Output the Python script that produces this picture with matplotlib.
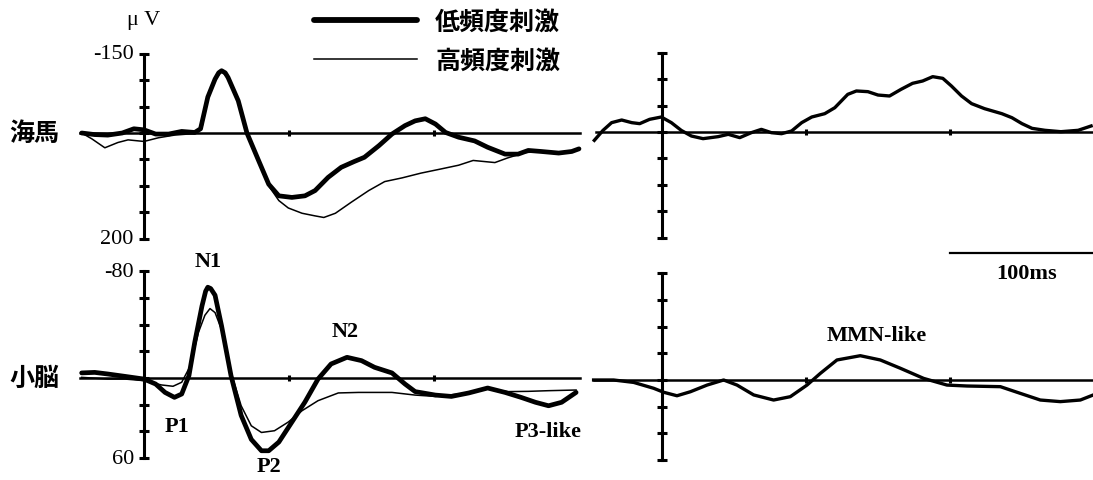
import numpy as np
import matplotlib
matplotlib.use('Agg')
import matplotlib.pyplot as plt

CJK = ['Noto Sans CJK JP', 'DejaVu Sans']
SERIF = ['Liberation Serif', 'DejaVu Serif']

# ---- data (ms, uV; negative up) ----
# hippocampus, low-frequency (thick)
hip_low_t = [-43, -34, -25, -15, -7, 0, 8, 17, 26, 35, 39, 44, 49, 51.5, 53.5, 56, 58, 65, 71, 79, 86, 93, 102,
             111, 118, 127, 136, 145, 152, 162, 171, 180, 187, 194, 201, 208, 217, 228, 237, 249, 258,
             265, 274, 286, 295, 300]
hip_low_v = [0, 3, 4, 0, -8, -6, 2, 2, -3, -1, -8, -68, -102, -114, -118, -114, -105, -61, 0, 52, 97, 119, 122,
             119, 109, 84, 65, 54, 46, 24, 2, -14, -23, -27, -17, -1, 8, 15, 27, 40, 40,
             33, 35, 38, 35, 30]
# hippocampus, high-frequency (thin)
hip_high_t = [-43, -36, -27, -18, -11, 0, 10, 21, 35, 40, 44, 49, 53.5, 58, 65, 71, 79, 86, 93, 99.5,
              109, 118, 124, 132, 143, 155, 166, 178, 191, 205, 217, 227, 242, 251, 263, 274, 286, 295, 300]
hip_high_v = [0, 11, 28, 18, 13, 16, 9, 4, 1, -11, -65, -100, -117, -104, -60, 0, 54, 100, 128, 142,
              152, 157, 160, 152, 131, 109, 92, 85, 76, 68, 61, 52, 56, 47, 37, 35, 37, 35, 30]
# cerebellum, low-frequency (thick)
cer_low_t = [-43, -34, -25, -13, 0, 8, 14.5, 21, 26, 31, 35, 40, 42.5, 44, 46, 49, 53.5, 60, 67, 74, 81, 86, 93,
             102, 111, 120, 129, 140, 150, 159, 171, 180, 187, 201, 212, 224, 237, 249, 260, 270, 279,
             288, 298]
cer_low_v = [-3.8, -4.2, -3, -1.2, 0.8, 4.5, 10.8, 14.5, 12, -1.8, -26.8, -54, -65, -68, -67, -62, -39, -1.8, 28,
             46, 54.5, 54.5, 48, 33, 18, 0.8, -10.5, -15.5, -13, -8, -3.8, 4.5, 10.2, 12.8, 13.8, 11.2,
             7.5, 10.8, 14.5, 18.2, 20.8, 18.2, 10.8]
# cerebellum, high-frequency (thin)
cer_high_t = [-43, -25, -13, 0, 12, 20, 26, 32, 37.5, 42, 45.5, 49, 55, 60, 67, 74, 81, 90, 99.5, 109,
              120, 134, 148, 171, 187, 201, 224, 237, 251, 265, 279, 298]
cer_high_v = [-0.5, 0.8, 0.8, 2, 5.2, 6.2, 3.2, -9.2, -34, -47, -52, -49, -32, -4.2, 20.8, 35.8, 40.8,
              39.5, 33, 24.5, 17, 11.2, 10.8, 10.8, 12.8, 13.8, 11.2, 8.2, 10.2, 10, 9.5, 9]
# difference waves
hip_diff_t = [-47, -41, -35, -28, -21, -15.5, -8.6, -0.5, 6.5, 13.4, 20.4, 28.5, 39, 46, 54, 62, 69, 76,
              83, 90, 97, 104, 113, 120, 129, 135, 143, 150, 158, 166, 174, 181, 188, 195, 201, 208,
              215, 224, 236, 243, 250, 257, 266, 277, 289, 298]
hip_diff_v = [15.8, -3, -17.7, -22.7, -17.7, -15.8, -24, -28.4, -17.7, -3, 7.6, 12.6, 8.8, 4.4, 10.7,
              1.3, -5, 1.3, 3.2, -1.9, -17.7, -28.4, -34.7, -46, -71.3, -77.7, -76.4, -70, -68.2, -80.8,
              -92.2, -96.6, -104.8, -101.6, -87.1, -68.2, -53.7, -44.2, -34.7, -27.1, -15.8, -6.9, -3.2,
              -0.6, -3.2, -11.4]
cer_diff_t = [-47.5, -33.6, -19.7, -5.8, 1.2, 10.4, 19.7, 31.3, 42.8, 52.1, 63.7, 77.5, 89.1, 100.7,
              110, 121.5, 137.7, 151.6, 165.5, 181.7, 197.9, 211.8, 235, 248.8, 262.7, 276.6, 290.5, 299.5]
cer_diff_v = [0, 0, 1.8, 6.2, 9.2, 11.8, 8.8, 3.8, 0, 3.8, 11.2, 15, 12.5, 3.8, -5, -15, -18.2, -15,
              -8.8, -1.2, 3.8, 4.5, 5, 10, 15, 16.2, 15, 11.2]

hip_range = (-150, 200, 50)
cer_range = (-80, 60, 20)
row_names = ['海馬', '小脳']
legend_labels = ['低頻度刺激', '高頻度刺激']
peaks = [('N1', 44, -88), ('P1', 23, 36), ('P2', 86, 66), ('N2', 139, -35), ('P3-like', 302, 40)]

W, H = 1093, 481
fig = plt.figure(figsize=(W / 100, H / 100), dpi=100)


def panel(x0, ppm, y0, ppu, xlim, ylim):
    left = x0 + xlim[0] * ppm
    right = x0 + xlim[1] * ppm
    top = y0 + ylim[0] * ppu
    bot = y0 + ylim[1] * ppu
    ax = fig.add_axes([left / W, 1 - bot / H, (right - left) / W, (bot - top) / H])
    ax.set_xlim(*xlim)
    ax.set_ylim(ylim[1], ylim[0])
    ax.axis('off')
    return ax


ax_tl = panel(144, 1.45, 134, 0.528, (-55, 305), (-165, 215))
ax_tr = panel(662, 1.44, 133, 0.528, (-55, 305), (-165, 215))
ax_bl = panel(144, 1.45, 379, 1.335, (-55, 305), (-88, 68))
ax_br = panel(662, 1.44, 381, 1.335, (-55, 305), (-88, 68))


def frame(ax, rng, x0, x1):
    lo, hi, step = rng
    ax.plot([0, 0], [lo, hi], color='k', lw=2.2, clip_on=False, zorder=3)
    yt = np.arange(lo, hi + step / 2, step)
    ax.plot(np.zeros_like(yt), yt, ls='none', marker='_', ms=7, mew=2.2, color='k', clip_on=False)
    ax.plot([x0, x1], [0, 0], color='k', lw=1.8, clip_on=False, zorder=3)
    ax.plot([100, 200], [0, 0], ls='none', marker='|', ms=5, mew=2.2, color='k')


frame(ax_tl, hip_range, -44, 301)
frame(ax_tr, hip_range, -46, 305)
frame(ax_bl, cer_range, -44, 301)
frame(ax_br, cer_range, -47, 305)

l1, = ax_tl.plot(hip_low_t, hip_low_v, color='k', lw=3.4, solid_joinstyle='round', solid_capstyle='round')
l2, = ax_tl.plot(hip_high_t, hip_high_v, color='k', lw=1.1)
ax_bl.plot(cer_low_t, cer_low_v, color='k', lw=3.4, solid_joinstyle='round', solid_capstyle='round')
ax_bl.plot(cer_high_t, cer_high_v, color='k', lw=1.1)
ax_tr.plot(hip_diff_t, hip_diff_v, color='k', lw=2.4, solid_joinstyle='round', clip_on=False)
ax_br.plot(cer_diff_t, cer_diff_v, color='k', lw=2.4, solid_joinstyle='round', clip_on=False)

# tick labels on left panels
for ax, rng in ((ax_tl, hip_range), (ax_bl, cer_range)):
    for v in (rng[0], rng[1]):
        ax.text(-7, v, str(v), ha='right', va='center', fontsize=16, family=SERIF, clip_on=False)

ax_tl.text(0, -215, 'μ V', ha='center', va='center', fontsize=16, family=SERIF)

for ax, name in zip((ax_tl, ax_bl), row_names):
    ax.text(-93, 0, name, ha='left', va='center', fontsize=18, family=CJK, weight='bold')

for name, t, v in peaks:
    ha = 'right' if name == 'P3-like' else 'center'
    ax_bl.text(t, v, name, ha=ha, va='center', fontsize=16, family=SERIF, weight='bold', clip_on=False)
ax_br.text(149, -34, 'MMN-like', ha='center', va='center', fontsize=16, family=SERIF, weight='bold')

# 100 ms scale bar
ax_br.plot([200, 300], [-95, -95], color='k', lw=1.6, clip_on=False)
ax_br.text(253, -80, '100ms', ha='center', va='center', fontsize=16, family=SERIF, weight='bold')

leg = fig.legend([l1, l2], legend_labels, loc='upper left', bbox_to_anchor=(314 / W, 1 - 11 / H),
                 frameon=False, prop={'family': CJK, 'weight': 'bold', 'size': 18},
                 handlelength=4.1, handletextpad=0.75, labelspacing=0.6, borderpad=0, borderaxespad=0)
leg.get_lines()[0].set_linewidth(4.2)

fig.savefig('out.png', dpi=100)
